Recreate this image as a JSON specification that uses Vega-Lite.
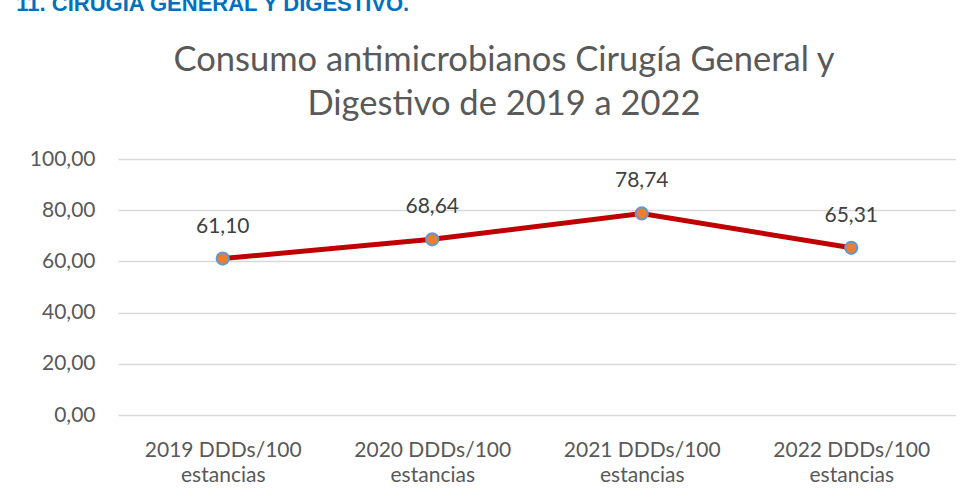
{
  "$schema": "https://vega.github.io/schema/vega-lite/v6.json",
  "background": "white",
  "padding": {"left": 16, "top": -8, "right": 0, "bottom": 0},
  "config": {
    "locale": {"number": {"decimal": ",", "thousands": ".", "grouping": [3], "currency": ["", " €"]}},
    "view": {"stroke": null},
    "font": "Lato"
  },
  "title": {
    "text": "11. CIRUGÍA GENERAL Y DIGESTIVO.",
    "anchor": "start",
    "frame": "bounds",
    "dx": -13,
    "font": "Liberation Sans",
    "fontSize": 22,
    "fontWeight": "bold",
    "color": "#0070C0",
    "offset": 27
  },
  "vconcat": [
    {
      "width": 838,
      "height": 256,
      "title": {
        "text": ["Consumo antimicrobianos Cirugía General y", "Digestivo de 2019 a 2022"],
        "anchor": "middle",
        "frame": "group",
        "dx": -33,
        "font": "Lato",
        "fontSize": 34.5,
        "fontWeight": "normal",
        "color": "#595959",
        "lineHeight": 44,
        "offset": 26
      },
      "data": {
        "values": [
          {"categoria": "2019 DDDs/100 estancias", "valor": 61.10},
          {"categoria": "2020 DDDs/100 estancias", "valor": 68.64},
          {"categoria": "2021 DDDs/100 estancias", "valor": 78.74},
          {"categoria": "2022 DDDs/100 estancias", "valor": 65.31}
        ]
      },
      "encoding": {
        "x": {
          "field": "categoria",
          "type": "nominal",
          "sort": null,
          "scale": {"type": "point", "padding": 0.5},
          "axis": {
            "title": null,
            "labelAngle": 0,
            "labelExpr": "[slice(datum.label, 0, 13), slice(datum.label, 14)]",
            "labelFont": "Lato",
            "labelFontSize": 21,
            "labelColor": "#595959",
            "labelLineHeight": 25,
            "labelPadding": 24,
            "labelBaseline": "top",
            "domain": false,
            "ticks": false,
            "grid": false
          }
        },
        "y": {
          "field": "valor",
          "type": "quantitative",
          "scale": {"domain": [0, 100]},
          "axis": {
            "title": null,
            "values": [0, 20, 40, 60, 80, 100],
            "format": ".2f",
            "labelFont": "Lato",
            "labelFontSize": 21,
            "labelColor": "#595959",
            "labelPadding": 23,
            "domain": false,
            "ticks": false,
            "grid": true,
            "gridColor": "#D9D9D9",
            "gridWidth": 1.3
          }
        }
      },
      "layer": [
        {"mark": {"type": "line", "color": "#C00000", "strokeWidth": 5}},
        {"mark": {"type": "point", "filled": true, "fill": "#ED7D31", "stroke": "#5B9BD5", "strokeWidth": 2, "size": 150, "opacity": 1}},
        {
          "mark": {"type": "text", "dy": -32, "fontSize": 21, "font": "Lato", "color": "#404040"},
          "encoding": {"text": {"field": "valor", "type": "quantitative", "format": ".2f"}}
        }
      ]
    }
  ]
}
